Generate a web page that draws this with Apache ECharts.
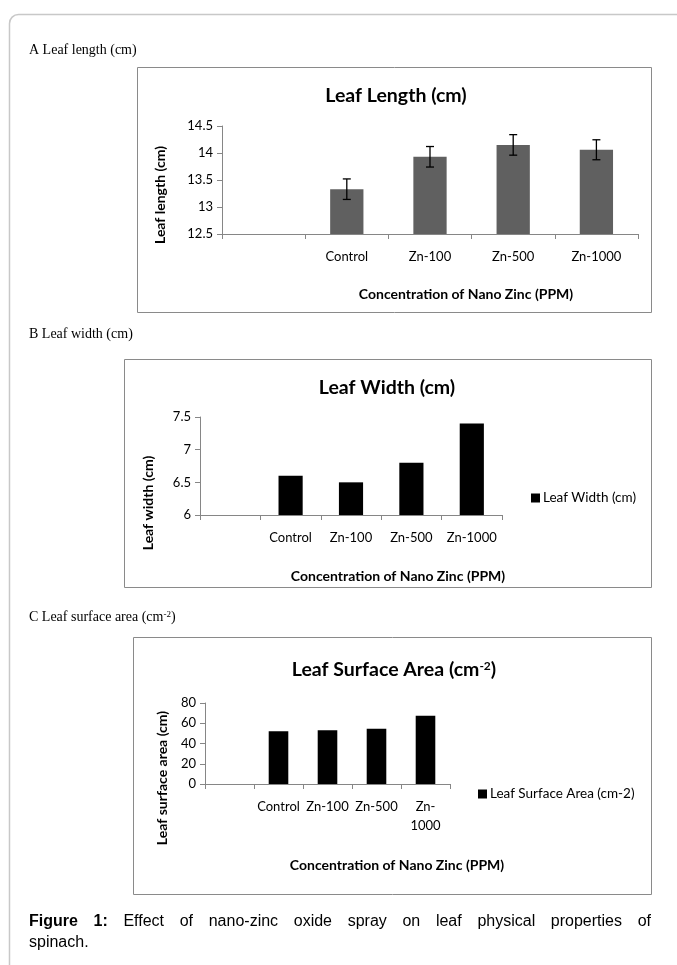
<!DOCTYPE html>
<html><head><meta charset="utf-8">
<script src="https://cdn.jsdelivr.net/npm/echarts@6/dist/echarts.min.js"></script>
<style>html,body{margin:0;padding:0;background:#fff}#c{width:677px;height:965px}</style>
</head><body><div id="c"></div>
<script>
// ---- data ----
const categories = ['', 'Control', 'Zn-100', 'Zn-500', 'Zn-1000'];
const lengthValues = [null, 13.33, 13.93, 14.15, 14.06];
const lengthErrors = [null, 0.19, 0.19, 0.19, 0.185];
const widthValues = [null, 6.6, 6.5, 6.8, 7.4];
const areaValues = [null, 52, 53.2, 54.6, 67.3];
const lengthTicks = [12.5, 14.5, 0.5];   // min, max, step
const widthTicks = [6, 7.5, 0.5];
const areaTicks = [0, 80, 20];
const xTitle = 'Concentration of Nano Zinc (PPM)';
const captionWords = [['Figure', true], ['1:', true], ['Effect'], ['of'], ['nano-zinc'], ['oxide'], ['spray'], ['on'], ['leaf'], ['physical'], ['properties'], ['of']];
const captionLine2 = 'spinach.';

// ---- style ----
const F = 'Lato, "Open Sans", sans-serif';
const SERIF = '"Liberation Serif", "DejaVu Serif", serif';
const CAP = '"Liberation Sans", Arial, sans-serif';
const AX = '#868686';

const chart = echarts.init(document.getElementById('c'), null, {renderer: 'canvas'});

function xAxis(gi, margin, fmt) {
  return {
    type: 'category', gridIndex: gi, data: categories,
    axisLine: {lineStyle: {color: AX, width: 1}},
    axisTick: {show: true, length: 5, lineStyle: {color: AX}},
    axisLabel: {color: '#000', fontFamily: F, fontSize: 13, margin: margin, interval: 0, formatter: fmt, lineHeight: 19}
  };
}
function yAxis(gi, t) {
  return {
    type: 'value', gridIndex: gi, min: t[0], max: t[1], interval: t[2],
    axisLine: {show: true, lineStyle: {color: AX, width: 1}},
    axisTick: {show: true, length: 5, lineStyle: {color: AX}},
    splitLine: {show: false},
    axisLabel: {color: '#000', fontFamily: F, fontSize: 13, margin: 9}
  };
}

const errData = [];
lengthValues.forEach((v, i) => { if (v != null) errData.push([i, v, lengthErrors[i]]); });

// caption layout (justified first line)
const ctx = document.createElement('canvas').getContext('2d');
const capSize = 16;
function wWidth(w) { ctx.font = (w[1] ? 'bold ' : '') + capSize + 'px ' + CAP; return ctx.measureText(w[0]).width; }
const capLeft = 29, capRight = 651;
const widths = captionWords.map(wWidth);
const total = widths.reduce((a, b) => a + b, 0);
const gap = (capRight - capLeft - total) / (captionWords.length - 1);
const captionGraphics = [];
let cx = capLeft;
captionWords.forEach((w, i) => {
  captionGraphics.push({type: 'text', x: cx, y: 922, style: {text: w[0], font: (w[1] ? 'bold ' : '') + capSize + 'px ' + CAP, fill: '#000', verticalAlign: 'middle'}});
  cx += widths[i] + gap;
});
captionGraphics.push({type: 'text', x: capLeft, y: 943, style: {text: captionLine2, font: capSize + 'px ' + CAP, fill: '#000', verticalAlign: 'middle'}});

function box(x, y, w, h) {
  return {type: 'rect', shape: {x: x + 0.5, y: y + 0.5, width: w, height: h}, style: {fill: 'none', stroke: '#8a8a8a', lineWidth: 1}, silent: true};
}
function txt(x, y, text, opt) {
  return {type: 'text', x: x, y: y, style: Object.assign({text: text, fill: '#000', align: 'center', verticalAlign: 'middle', fontFamily: F, fontSize: 14, fontWeight: 'bold'}, opt || {})};
}
function rtxt(x, y, text) {
  return {type: 'text', x: x, y: y, rotation: Math.PI / 2, style: {text: text, fill: '#000', align: 'center', verticalAlign: 'middle', fontFamily: F, fontSize: 14, fontWeight: 'bold'}};
}

const option = {
  animation: false,
  backgroundColor: '#fff',
  grid: [
    {left: 222, top: 126, width: 416, height: 108},
    {left: 200, top: 417, width: 302, height: 98},
    {left: 205, top: 703, width: 245, height: 81}
  ],
  xAxis: [xAxis(0, 13), xAxis(1, 13), xAxis(2, 13, v => v === 'Zn-1000' ? 'Zn-\n1000' : v)],
  yAxis: [yAxis(0, lengthTicks), yAxis(1, widthTicks), yAxis(2, areaTicks)],
  legend: [
    {data: ['Leaf Width (cm)'], left: 526, top: 486, icon: 'rect', itemWidth: 9, itemHeight: 9, itemGap: 4, selectedMode: false,
     textStyle: {fontFamily: F, fontSize: 13.5, color: '#000', padding: [0, 0, 0, -2]}},
    {data: ['Leaf Surface Area (cm-2)'], left: 473, top: 782, icon: 'rect', itemWidth: 9, itemHeight: 9, selectedMode: false,
     textStyle: {fontFamily: F, fontSize: 13.5, color: '#000', padding: [0, 0, 0, -2]}}
  ],
  series: [
    {name: 'Leaf Length (cm)', type: 'bar', xAxisIndex: 0, yAxisIndex: 0, data: lengthValues, barWidth: '40%', itemStyle: {color: '#606060'}},
    {name: 'error', type: 'custom', xAxisIndex: 0, yAxisIndex: 0, data: errData, z: 10, encode: {x: 0, y: 1},
     renderItem: function (params, api) {
       const i = api.value(0), v = api.value(1), e = api.value(2);
       const hi = api.coord([i, v + e]), lo = api.coord([i, v - e]);
       const hw = 4;
       const st = {stroke: '#000', lineWidth: 1.3};
       return {type: 'group', children: [
         {type: 'line', shape: {x1: hi[0], y1: hi[1], x2: lo[0], y2: lo[1]}, style: st},
         {type: 'line', shape: {x1: hi[0] - hw, y1: hi[1], x2: hi[0] + hw, y2: hi[1]}, style: st},
         {type: 'line', shape: {x1: lo[0] - hw, y1: lo[1], x2: lo[0] + hw, y2: lo[1]}, style: st}
       ]};
     }},
    {name: 'Leaf Width (cm)', type: 'bar', xAxisIndex: 1, yAxisIndex: 1, data: widthValues, barWidth: '40%', itemStyle: {color: '#000'}},
    {name: 'Leaf Surface Area (cm-2)', type: 'bar', xAxisIndex: 2, yAxisIndex: 2, data: areaValues, barWidth: '40%', itemStyle: {color: '#000'}}
  ],
  graphic: [
    {type: 'rect', shape: {x: 9.5, y: 14.5, width: 720, height: 1000, r: 9}, style: {fill: 'none', stroke: '#c8c8c8', lineWidth: 1.5}, silent: true},
    txt(29, 50, 'A Leaf length (cm)', {align: 'left', fontFamily: SERIF, fontWeight: 'normal', fontSize: 14}),
    txt(29, 334, 'B Leaf width (cm)', {align: 'left', fontFamily: SERIF, fontWeight: 'normal', fontSize: 14}),
    {type: 'text', x: 29, y: 617, style: {text: '{a|C Leaf surface area (cm}{s|-2}{a|)}', align: 'left', verticalAlign: 'middle',
      rich: {a: {fontFamily: SERIF, fontSize: 14, fill: '#000'}, s: {fontFamily: SERIF, fontSize: 9, fill: '#000', verticalAlign: 'top'}}}},
    box(137, 67, 514, 245),
    box(124, 359, 527, 228),
    box(133, 637, 518, 257),
    txt(396, 96, 'Leaf Length (cm)', {fontSize: 19.5}),
    txt(387, 388, 'Leaf Width (cm)', {fontSize: 19.5}),
    {type: 'text', x: 394, y: 670, style: {text: '{a|Leaf Surface Area (cm}{s|-2}{a|)}', align: 'center', verticalAlign: 'middle',
      rich: {a: {fontFamily: F, fontSize: 19.5, fontWeight: 'bold', fill: '#000'}, s: {fontFamily: F, fontSize: 12, fontWeight: 'bold', fill: '#000', verticalAlign: 'top'}}}},
    rtxt(160, 195, 'Leaf length (cm)'),
    rtxt(148, 503, 'Leaf width (cm)'),
    rtxt(162, 778, 'Leaf surface area (cm)'),
    txt(466, 294, xTitle),
    txt(398, 576, xTitle),
    txt(397, 865, xTitle)
  ].concat(captionGraphics)
};
chart.setOption(option);
</script>
</body></html>
